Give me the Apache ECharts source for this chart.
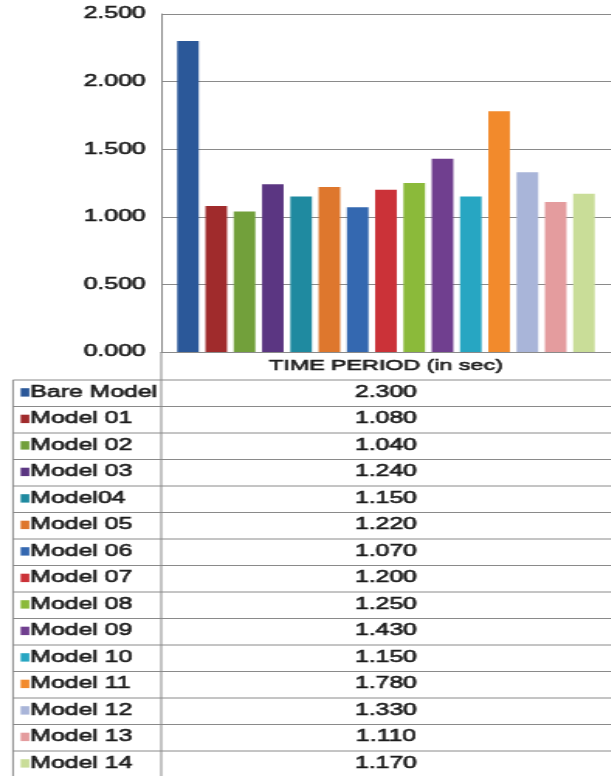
<!DOCTYPE html>
<html>
<head>
<meta charset="utf-8">
<script src="https://cdn.jsdelivr.net/npm/echarts@6/dist/echarts.min.js"></script>
<style>
  html, body { margin: 0; padding: 0; background: #fff; }
  #wrap { width: 611px; height: 776px; overflow: hidden; position: relative; background: #fff; }
  /* the chart is drawn narrow and widened, giving the broad lettering of the sheet export */
  #chart { width: 394px; height: 776px; transform: scaleX(1.55); transform-origin: 0 0; }
</style>
</head>
<body>
<div id="wrap"><div id="chart"></div></div>
<script>
// Response time of each model, in seconds
const categories = ['TIME PERIOD (in sec)'];
const modelNames = ['Bare Model', 'Model 01', 'Model 02', 'Model 03', 'Model04', 'Model 05', 'Model 06',
  'Model 07', 'Model 08', 'Model 09', 'Model 10', 'Model 11', 'Model 12', 'Model 13', 'Model 14'];
const timeValues = [2.300, 1.080, 1.040, 1.240, 1.150, 1.220, 1.070,
  1.200, 1.250, 1.430, 1.150, 1.780, 1.330, 1.110, 1.170];
const modelColors = ['#2B5899', '#A02B2C', '#72A03B', '#5B3682', '#1F8AA0', '#DE772D', '#3468B0',
  '#CB3238', '#8BBA3A', '#703F8F', '#27A6C2', '#F28A2C', '#A9B5D9', '#E49C9E', '#C9DD98'];
const axisMin = 0, axisMax = 2.5, axisStep = 0.5;

const FONT = '"Liberation Sans", Arial, sans-serif';
const LINE = '#8a8a8a';
const TEXT = '#1c1c1c';
const TEXT_EDGE = 0.6;

// data-table layout (unstretched units)
const gridLeft = 104, gridTop = 14, gridBottom = 424, chartW = 394;
const tableLeft = 8.4, tableTop = 380, rowH = 26.5;
const axisY = 776 - gridBottom;

const graphics = [];
const tableBottom = tableTop + rowH * modelNames.length;
// header cell divider under the x axis and the label column divider
graphics.push({ type: 'line', shape: { x1: gridLeft, y1: axisY, x2: gridLeft, y2: tableBottom }, style: { stroke: LINE, lineWidth: 1 }, silent: true });
graphics.push({ type: 'line', shape: { x1: tableLeft, y1: tableTop, x2: tableLeft, y2: tableBottom }, style: { stroke: LINE, lineWidth: 1 }, silent: true });
for (let i = 0; i <= modelNames.length; i++) {
  const y = tableTop + rowH * i;
  graphics.push({ type: 'line', shape: { x1: tableLeft, y1: y, x2: chartW, y2: y }, style: { stroke: LINE, lineWidth: 1 }, silent: true });
}
modelNames.forEach((name, i) => {
  const cy = tableTop + rowH * i + 12.5;
  graphics.push({ type: 'rect', shape: { x: 13.3, y: cy - 4.3, width: 5.6, height: 8.4 }, style: { fill: modelColors[i] }, silent: true });
  graphics.push({ type: 'text', style: { text: name, x: 19.6, y: cy, fill: TEXT, stroke: TEXT, lineWidth: TEXT_EDGE, fontSize: 16, fontFamily: FONT, align: 'left', verticalAlign: 'middle' }, silent: true });
  graphics.push({ type: 'text', style: { text: timeValues[i].toFixed(3), x: (gridLeft + chartW) / 2, y: cy, fill: TEXT, stroke: TEXT, lineWidth: TEXT_EDGE, fontSize: 16, fontFamily: FONT, align: 'center', verticalAlign: 'middle' }, silent: true });
});

const chart = echarts.init(document.getElementById('chart'));
chart.setOption({
  animation: false,
  backgroundColor: '#fff',
  grid: { left: gridLeft, right: 0, top: gridTop, bottom: gridBottom, containLabel: false, outerBoundsMode: 'none' },
  xAxis: {
    type: 'category',
    data: categories,
    axisLine: { show: true, lineStyle: { color: LINE, width: 1 } },
    axisTick: { show: false },
    axisLabel: { color: TEXT, textBorderColor: TEXT, textBorderWidth: TEXT_EDGE, fontSize: 15, fontFamily: FONT, margin: 6 }
  },
  yAxis: {
    type: 'value',
    min: axisMin, max: axisMax, interval: axisStep,
    axisLine: { show: true, lineStyle: { color: LINE, width: 1 } },
    axisTick: { show: false },
    axisLabel: { color: TEXT, textBorderColor: TEXT, textBorderWidth: TEXT_EDGE, fontSize: 16, fontFamily: FONT, margin: 10, formatter: v => v.toFixed(3) },
    splitLine: { show: true, lineStyle: { color: LINE, width: 1 } }
  },
  series: modelNames.map((name, i) => ({
    type: 'bar',
    name: name,
    data: [timeValues[i]],
    itemStyle: { color: modelColors[i] },
    barGap: '31%',
    barCategoryGap: '7.1%'
  })),
  graphic: graphics
});
</script>
</body>
</html>
